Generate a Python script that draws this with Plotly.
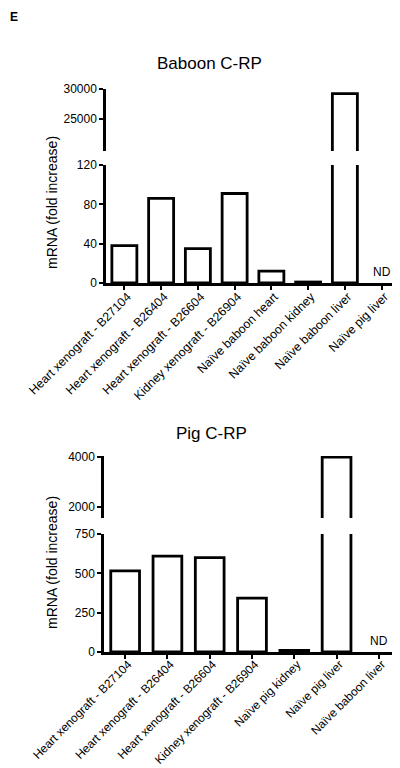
import plotly.graph_objects as go

# ---- data ----
baboon_categories = [
    "Heart xenograft - B27104",
    "Heart xenograft - B26404",
    "Heart xenograft - B26604",
    "Kidney xenograft - B26904",
    "Naïve baboon heart",
    "Naïve baboon kidney",
    "Naïve baboon liver",
    "Naïve pig liver",
]
baboon_values = [38, 86, 35, 91, 12, 1, 29200, None]  # last: ND

pig_categories = [
    "Heart xenograft - B27104",
    "Heart xenograft - B26404",
    "Heart xenograft - B26604",
    "Kidney xenograft - B26904",
    "Naïve pig kidney",
    "Naïve pig liver",
    "Naïve baboon liver",
]
pig_values = [515, 610, 600, 343, 10, 4000, None]  # last: ND

baboon_low_ticks = [0, 40, 80, 120]
baboon_high_ticks = [25000, 30000]
pig_low_ticks = [0, 250, 500, 750]
pig_high_ticks = [2000, 4000]

FONT = "Liberation Sans, Arial, sans-serif"
OFF = 8.0          # page body margin of the html page
W = 400.0 - OFF    # figure size so that it ends at the window edge
H = 768.0 - OFF


def px_x(px):
    return (px - OFF) / W


def px_y(py):
    return 1 - (py - OFF) / H


fig = go.Figure()

bar_style = dict(
    marker=dict(color="white", line=dict(color="black", width=2.8)),
    hoverinfo="skip",
    showlegend=False,
)

# top chart: lower and upper segments of broken axis
fig.add_trace(go.Bar(x=baboon_categories, y=baboon_values, xaxis="x", yaxis="y", **bar_style))
fig.add_trace(go.Bar(x=baboon_categories, y=baboon_values, xaxis="x", yaxis="y2", **bar_style))
# bottom chart
fig.add_trace(go.Bar(x=pig_categories, y=pig_values, xaxis="x2", yaxis="y3", **bar_style))
fig.add_trace(go.Bar(x=pig_categories, y=pig_values, xaxis="x2", yaxis="y4", **bar_style))

axis_common = dict(
    showline=True, linecolor="black", linewidth=2.5,
    ticks="outside", ticklen=4, tickwidth=2, tickcolor="black",
    showgrid=False, zeroline=False, automargin=False,
    fixedrange=True,
)
yfont = dict(family=FONT, size=12, color="black")
xextra_top = dict(tickangle=-45, tickfont=dict(family=FONT, size=12.3, color="black"),
                  ticklabelstandoff=-5, ticklabelshift=3)
xextra_bot = dict(tickangle=-45, tickfont=dict(family=FONT, size=11.9, color="black"),
                  ticklabelstandoff=-6, ticklabelshift=3)

fig.update_layout(
    template="none",
    width=W, height=H,
    margin=dict(l=0, r=0, t=0, b=0, autoexpand=False),
    paper_bgcolor="white", plot_bgcolor="white",
    bargap=0.32,
    showlegend=False,
    font=dict(family=FONT, color="black"),
    xaxis=dict(domain=[px_x(106), 1.0], anchor="y", type="category",
               range=[-0.5, 7.5], **xextra_top, **axis_common),
    yaxis=dict(domain=[px_y(283), px_y(165)], anchor="x", range=[0, 120],
               tickvals=baboon_low_ticks, ticktext=[str(v) for v in baboon_low_ticks],
               tickfont=yfont, **axis_common),
    yaxis2=dict(domain=[px_y(151), px_y(89)], anchor="x", range=[19500, 30000],
                tickvals=baboon_high_ticks, ticktext=[str(v) for v in baboon_high_ticks],
                tickfont=yfont, **axis_common),
    xaxis2=dict(domain=[px_x(104), 1.0], anchor="y3", type="category",
                range=[-0.5, 6.5], **xextra_bot, **axis_common),
    yaxis3=dict(domain=[px_y(652), px_y(534)], anchor="x2", range=[0, 750],
                tickvals=pig_low_ticks, ticktext=[str(v) for v in pig_low_ticks],
                tickfont=yfont, **axis_common),
    yaxis4=dict(domain=[px_y(518), px_y(456)], anchor="x2", range=[1560, 4040],
                tickvals=pig_high_ticks, ticktext=[str(v) for v in pig_high_ticks],
                tickfont=yfont, **axis_common),
)

ann = []
# panel letter
ann.append(dict(text="<b>E</b>", x=0.0, y=1.0, xref="paper", yref="paper",
                xanchor="left", yanchor="top", showarrow=False,
                font=dict(family=FONT, size=12, color="black")))
# titles
ann.append(dict(text="Baboon C-RP", x=px_x(210), y=px_y(63), xref="paper", yref="paper",
                xanchor="center", yanchor="middle", showarrow=False,
                font=dict(family=FONT, size=17, color="black")))
ann.append(dict(text="Pig C-RP", x=px_x(211), y=px_y(433), xref="paper", yref="paper",
                xanchor="center", yanchor="middle", showarrow=False,
                font=dict(family=FONT, size=17, color="black")))
# y titles
for yc in (203, 563):
    ann.append(dict(text="mRNA (fold increase)", x=px_x(52), y=px_y(yc), xref="paper", yref="paper",
                    xanchor="center", yanchor="middle", textangle=-90, showarrow=False,
                    font=dict(family=FONT, size=14, color="black")))
# ND labels
ann.append(dict(text="ND", x=baboon_categories[7], y=0, xref="x", yref="y",
                xanchor="center", yanchor="bottom", yshift=2, showarrow=False,
                font=dict(family=FONT, size=12, color="black")))
ann.append(dict(text="ND", x=pig_categories[6], y=0, xref="x2", yref="y3",
                xanchor="center", yanchor="bottom", yshift=2, showarrow=False,
                font=dict(family=FONT, size=12, color="black")))
fig.update_layout(annotations=ann)

fig.write_html("out.html")
